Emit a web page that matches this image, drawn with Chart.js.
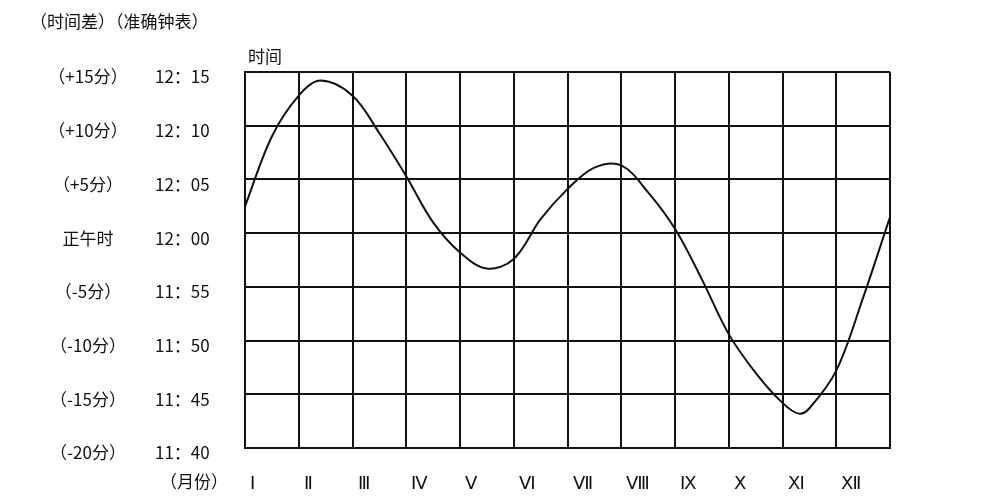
<!DOCTYPE html><html><head><meta charset="utf-8">
<script src="https://cdn.jsdelivr.net/npm/chart.js@4"></script>
<style>html,body{margin:0;background:#fff}#w{width:1000px;height:501px}</style></head><body><div id="w"><canvas id="c"></canvas></div>
<script>
const monthPos=[0,0.5,1,1.4,2,2.5,3,3.5,4,4.5,5,5.5,6,6.5,7,7.5,8,8.5,9,9.5,10,10.3,10.5,11,11.5,12];
const diffMin=[2.5,9,12.8,14.2,12.8,9.3,5.3,1,-1.8,-3.3,-2.4,1.3,4.1,6.1,6.3,3.8,0.4,-4.3,-9.4,-13,-15.8,-16.8,-16.3,-12.8,-6,1.5];
const monthLabels=['Ⅰ','Ⅱ','Ⅲ','Ⅳ','Ⅴ','Ⅵ','Ⅶ','Ⅷ','Ⅸ','Ⅹ','Ⅺ','Ⅻ'];
const yVals=[15,10,5,0,-5,-10,-15,-20];
const diffLabels=['（+15分）','（+10分）','（+5分）','正午时','（-5分）','（-10分）','（-15分）','（-20分）'];
const clockLabels=['12：15','12：10','12：05','12：00','11：55','11：50','11：45','11：40'];
const F='"Noto Sans CJK SC", serif';
const txt={id:'txt',afterDraw(ch){const c=ch.ctx,y=ch.scales.y,x=ch.scales.x;c.save();c.fillStyle='#111';c.textBaseline='middle';
c.font='17px '+F;
yVals.forEach((v,i)=>{const p=y.getPixelForValue(v)+5;c.textAlign='center';c.fillText(diffLabels[i],88,p);c.textAlign='left';c.fillText(clockLabels[i],155,p);});
c.textAlign='left';c.fillText('（时间差）（准确钟表）',30,22);c.fillText('时间',248,57);c.fillText('（月份）',160,482);
c.font='18px "Liberation Serif", serif';c.textAlign='left';
monthLabels.forEach((m,i)=>{c.fillText(m,x.getPixelForValue(i)+5,484);});
c.restore();}};
new Chart(document.getElementById('c'),{type:'line',data:{datasets:[{data:monthPos.map((m,i)=>({x:m,y:diffMin[i]})),borderColor:'#111',borderWidth:2,pointRadius:0,tension:0.35}]},
options:{responsive:true,maintainAspectRatio:false,animation:false,layout:{padding:{left:245,right:110,top:72,bottom:53}},
plugins:{legend:{display:false},tooltip:{enabled:false}},
scales:{x:{type:'linear',min:0,max:12,ticks:{stepSize:1,display:false},grid:{color:'#111',lineWidth:2,drawTicks:false},border:{color:'#111',width:2}},
y:{min:-20,max:15,ticks:{stepSize:5,display:false},grid:{color:'#111',lineWidth:2,drawTicks:false},border:{color:'#111',width:2}}}},plugins:[txt]});
</script></body></html>
